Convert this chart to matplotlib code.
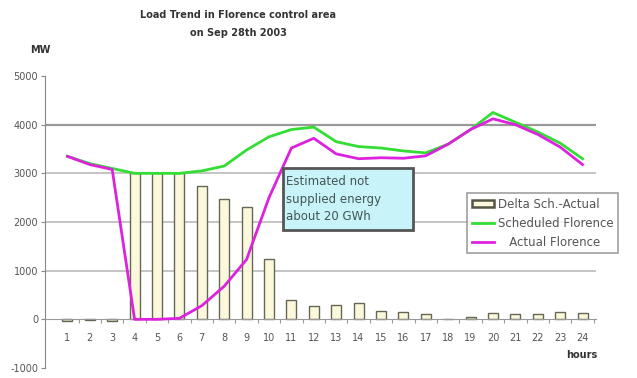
import matplotlib
matplotlib.use("Agg")
import matplotlib.pyplot as plt
from matplotlib.patches import Patch, Rectangle
from matplotlib.lines import Line2D

hours = list(range(1, 25))
hour_labels = [str(h) for h in hours]
delta_sch_actual = [-30, -20, -30, 3000, 3000, 3000, 2750, 2480, 2300, 1250,
                    400, 280, 300, 340, 180, 150, 100, 10, 40, 130,
                    110, 100, 150, 130]
scheduled_florence = [3350, 3200, 3100, 3000, 3000, 3000, 3050, 3150, 3480, 3750,
                      3900, 3950, 3650, 3550, 3520, 3460, 3420, 3600, 3900, 4250,
                      4050, 3850, 3620, 3300]
actual_florence = [3350, 3180, 3080, 0, 0, 20, 280, 680, 1230, 2500,
                   3520, 3720, 3400, 3300, 3320, 3310, 3360, 3600, 3900, 4120,
                   4000, 3800, 3540, 3180]
y_ticks = [-1000, 0, 1000, 2000, 3000, 4000, 5000]

fig = plt.figure(figsize=(6.37, 3.78), dpi=100)
ax = fig.add_axes([45 / 637, 1 - 368 / 378, 551 / 637, 292 / 378])

text_col = "#555555"
grid_col = "#c4c4c4"

for g in [1000, 2000, 3000]:
    ax.axhline(g, color=grid_col, lw=1.4, zorder=0)
ax.axhline(4000, color="#999999", lw=1.6, zorder=0)

bar_face = "#fbf8dc"
ax.bar(hours, delta_sch_actual, width=0.45, color=bar_face,
       edgecolor="#666655", linewidth=1.0, zorder=2)
ax.plot(hours, scheduled_florence, color="#33dd33", lw=2.0, zorder=3)
ax.plot(hours, actual_florence, color="#dd22dd", lw=2.0, zorder=4)

ax.set_xlim(0, 24.6)
ax.set_ylim(-1000, 5000)
ax.set_yticks(y_ticks)
ax.set_yticklabels([str(v) for v in y_ticks])
ax.set_xticks(hours)
ax.set_xticklabels(hour_labels)
ax.set_xticks([h + 0.5 for h in hours], minor=True)

ax.spines["top"].set_visible(False)
ax.spines["right"].set_visible(False)
ax.spines["bottom"].set_position(("data", 0))
ax.spines["bottom"].set_color("#999999")
ax.spines["left"].set_color("#888888")
ax.tick_params(axis="y", colors="#888888", labelcolor=text_col, labelsize=7,
               length=3, width=0.8, pad=2)
ax.tick_params(axis="x", which="major", length=0, pad=10, labelsize=7,
               labelcolor=text_col)
ax.tick_params(axis="x", which="minor", length=3, width=0.8, colors="#999999",
               direction="out")

fig.text(238 / 637, 1 - 24 / 378,
         "Load Trend in Florence control area\non Sep 28th 2003",
         ha="center", va="center", fontsize=7, fontweight="bold",
         color="#333333", linespacing=2.0)
fig.text(30 / 637, 1 - 50 / 378, "MW", ha="left", va="center",
         fontsize=7, fontweight="bold", color="#333333")
fig.text(582 / 637, 1 - 355 / 378, "hours", ha="center", va="center",
         fontsize=7, fontweight="bold", color="#333333")

# annotation box with the estimated energy not supplied
fig.patches.append(Rectangle((283 / 637, 1 - 230 / 378), 130 / 637, 62 / 378,
                             transform=fig.transFigure, facecolor="#c8f3f8",
                             edgecolor="#555555", linewidth=2.0, zorder=6))
fig.text(286 / 637, 1 - 199 / 378, "Estimated not\nsupplied energy\nabout 20 GWh",
         ha="left", va="center", fontsize=8.5, color="#445555",
         linespacing=1.45, zorder=7)

handles = [Patch(facecolor=bar_face, edgecolor="#555544", linewidth=1.8),
           Line2D([], [], color="#33dd33", lw=2),
           Line2D([], [], color="#dd22dd", lw=2)]
labels = ["Delta Sch.-Actual", "Scheduled Florence", "   Actual Florence"]
leg = fig.legend(handles, labels, loc="upper left",
                 bbox_to_anchor=(467 / 637, 1 - 193 / 378),
                 fontsize=8.5, frameon=True, fancybox=False,
                 edgecolor="#888888", handlelength=1.9, handleheight=0.6,
                 borderpad=0.4, labelspacing=0.5, handletextpad=0.3,
                 borderaxespad=0)
leg.get_frame().set_linewidth(1.2)
for t in leg.get_texts():
    t.set_color(text_col)

fig.savefig("out.png", dpi=100)
